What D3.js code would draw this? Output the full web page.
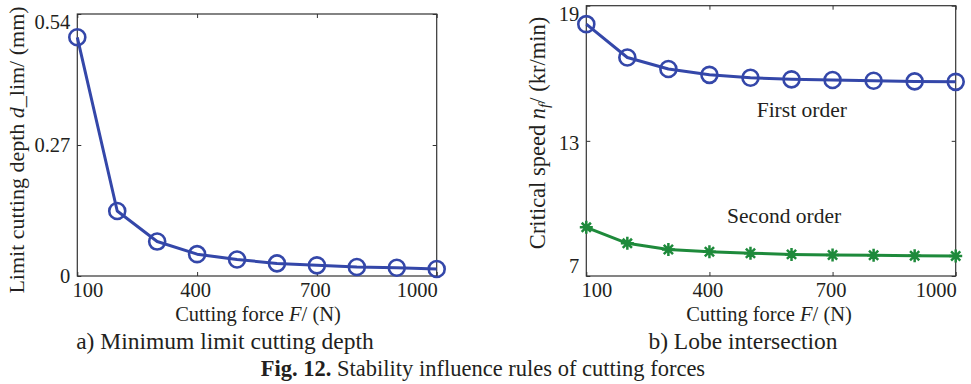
<!DOCTYPE html>
<html>
<head>
<meta charset="utf-8">
<script src="https://cdn.jsdelivr.net/npm/d3@7"></script>
<style>
  body { margin: 0; background: #fff; }
  svg { display: block; font-family: 'Liberation Serif', 'Times New Roman', serif; }
</style>
</head>
<body>
<svg id="fig" width="971" height="384"></svg>
<script>
// cutting force (N)
const forces = [100, 200, 300, 400, 500, 600, 700, 800, 900, 1000]
// a) minimum limit cutting depth (mm)
const depthLim = [0.492, 0.134, 0.071, 0.045, 0.034, 0.026, 0.022, 0.0185, 0.017, 0.0145]
// b) critical speed (kr/min)
const firstOrder = [18.18, 16.7, 16.19, 15.93, 15.8, 15.73, 15.7, 15.67, 15.64, 15.62]
const secondOrder = [9.16, 8.45, 8.18, 8.08, 8.01, 7.96, 7.93, 7.92, 7.9, 7.89]

const xTicks = [100, 400, 700, 1000]
const depthTicks = [0, 0.27, 0.54]
const speedTicks = [7, 13, 19]

const blue = '#3447a9'
const green = '#1e8a3b'
const ink = '#231f20'

const svg = d3.select('#fig')

function frame(g, x, y, yTicks, yFmt, yShift) {
  const [x0, x1] = x.range()
  const [y0, y1] = y.range()

  g.append('rect')
    .attr('x', x0).attr('y', y1)
    .attr('width', x1 - x0).attr('height', y0 - y1)
    .attr('fill', 'none').attr('stroke', '#333').attr('stroke-width', 1.2)

  // bottom axis (inward ticks)
  const bx = g.append('g').attr('transform', `translate(0,${y0})`)
    .call(d3.axisBottom(x).tickValues(xTicks).tickFormat(d3.format('d')).tickSizeInner(-4).tickSizeOuter(0).tickPadding(6))
  bx.attr('font-family', null)
  bx.select('.domain').remove()
  bx.selectAll('.tick line').attr('stroke', '#333')
  bx.selectAll('.tick text')
    .attr('fill', ink).attr('font-size', 20.5)
    .attr('dx', (d, i) => (i === 0 ? 10 : i === xTicks.length - 1 ? -20 : -2))

  // top mirror ticks
  const tx = g.append('g').attr('transform', `translate(0,${y1})`)
    .call(d3.axisTop(x).tickValues(xTicks).tickSizeInner(-4).tickSizeOuter(0).tickFormat(''))
  tx.select('.domain').remove()
  tx.selectAll('.tick line').attr('stroke', '#333')

  // left axis
  const ly = g.append('g').attr('transform', `translate(${x0},0)`)
    .call(d3.axisLeft(y).tickValues(yTicks).tickFormat(yFmt).tickSizeInner(-4).tickSizeOuter(0).tickPadding(7))
  ly.attr('font-family', null)
  ly.select('.domain').remove()
  ly.selectAll('.tick line').attr('stroke', '#333')
  ly.selectAll('.tick text')
    .attr('fill', ink).attr('font-size', 20.5)
    .attr('dy', (d) => yShift(d))

  // right mirror ticks
  const ry = g.append('g').attr('transform', `translate(${x1},0)`)
    .call(d3.axisRight(y).tickValues(yTicks).tickSizeInner(-4).tickSizeOuter(0).tickFormat(''))
  ry.select('.domain').remove()
  ry.selectAll('.tick line').attr('stroke', '#333')
}

function asterisk(g, cx, cy, r, color) {
  const d = r * Math.SQRT1_2
  const p = `M${cx - r},${cy}H${cx + r}M${cx},${cy - r}V${cy + r}` +
    `M${cx - d},${cy - d}L${cx + d},${cy + d}M${cx - d},${cy + d}L${cx + d},${cy - d}`
  g.append('path').attr('d', p).attr('stroke', color).attr('stroke-width', 2.5).attr('fill', 'none')
}

// ---------- a) limit cutting depth ----------
const xa = d3.scaleLinear().domain([100, 1000]).range([77.3, 436.7])
const ya = d3.scaleLinear().domain([0, 0.54]).range([276, 14])
const ga = svg.append('g')

frame(ga, xa, ya, depthTicks, (d) => (d === 0 ? '0' : d.toFixed(2)), (d) => (d === 0.54 ? '0.7em' : '0.32em'))

ga.append('path')
  .datum(forces.map((f, i) => [f, depthLim[i]]))
  .attr('fill', 'none').attr('stroke', blue).attr('stroke-width', 3).attr('stroke-linejoin', 'round')
  .attr('d', d3.line().x((d) => xa(d[0])).y((d) => ya(d[1])))

ga.selectAll('circle.m')
  .data(forces.map((f, i) => [f, depthLim[i]]))
  .join('circle')
  .attr('class', 'm')
  .attr('cx', (d) => xa(d[0])).attr('cy', (d) => ya(d[1]))
  .attr('r', 8).attr('fill', 'none').attr('stroke', blue).attr('stroke-width', 2.6)

ga.append('text')
  .attr('x', 258).attr('y', 321).attr('text-anchor', 'middle')
  .attr('font-size', 20.5).attr('fill', ink)
  .call((t) => {
    t.append('tspan').text('Cutting force ')
    t.append('tspan').attr('font-style', 'italic').text('F')
    t.append('tspan').text('/ (N)')
  })

ga.append('text')
  .attr('transform', 'translate(24,150) rotate(-90)')
  .attr('text-anchor', 'middle').attr('font-size', 22).attr('fill', ink)
  .call((t) => {
    t.append('tspan').text('Limit cutting depth ')
    t.append('tspan').attr('font-style', 'italic').text('d')
    t.append('tspan').text('_lim/ (mm)')
  })

ga.append('text')
  .attr('x', 225).attr('y', 349).attr('text-anchor', 'middle')
  .attr('font-size', 23.5).attr('fill', ink)
  .text('a) Minimum limit cutting depth')

// ---------- b) lobe intersection ----------
const xb = d3.scaleLinear().domain([100, 1000]).range([586.3, 955.7])
const yb = d3.scaleLinear().domain([7, 19]).range([276, 5.7])
const gb = svg.append('g')

frame(gb, xb, yb, speedTicks, d3.format('d'), (d) => (d === 19 ? '0.72em' : d === 7 ? '-0.17em' : '0.43em'))

const line = d3.line().x((d) => xb(d[0])).y((d) => yb(d[1]))
const first = forces.map((f, i) => [f, firstOrder[i]])
const second = forces.map((f, i) => [f, secondOrder[i]])

gb.append('path').datum(first)
  .attr('fill', 'none').attr('stroke', blue).attr('stroke-width', 3).attr('stroke-linejoin', 'round')
  .attr('d', line)
gb.selectAll('circle.m')
  .data(first)
  .join('circle')
  .attr('class', 'm')
  .attr('cx', (d) => xb(d[0])).attr('cy', (d) => yb(d[1]))
  .attr('r', 8).attr('fill', 'none').attr('stroke', blue).attr('stroke-width', 2.6)

gb.append('path').datum(second)
  .attr('fill', 'none').attr('stroke', green).attr('stroke-width', 3).attr('stroke-linejoin', 'round')
  .attr('d', line)
second.forEach((d) => asterisk(gb, xb(d[0]), yb(d[1]), 6.5, green))

gb.append('text')
  .attr('x', xb(625)).attr('y', yb(14.07)).attr('text-anchor', 'middle')
  .attr('font-size', 21.5).attr('fill', ink).text('First order')
gb.append('text')
  .attr('x', xb(582)).attr('y', yb(9.37)).attr('text-anchor', 'middle')
  .attr('font-size', 21.5).attr('fill', ink).text('Second order')

gb.append('text')
  .attr('x', 769).attr('y', 321).attr('text-anchor', 'middle')
  .attr('font-size', 20.5).attr('fill', ink)
  .call((t) => {
    t.append('tspan').text('Cutting force ')
    t.append('tspan').attr('font-style', 'italic').text('F')
    t.append('tspan').text('/ (N)')
  })

gb.append('text')
  .attr('transform', 'translate(545,133) rotate(-90)')
  .attr('text-anchor', 'middle').attr('font-size', 22.5).attr('fill', ink)
  .call((t) => {
    t.append('tspan').text('Critical speed ')
    t.append('tspan').attr('font-style', 'italic').text('n')
    t.append('tspan').attr('font-style', 'italic').attr('font-size', 15).attr('dy', 4).text('f')
    t.append('tspan').attr('dy', -4).text('/ (kr/min)')
  })

gb.append('text')
  .attr('x', 743).attr('y', 349).attr('text-anchor', 'middle')
  .attr('font-size', 23.5).attr('fill', ink)
  .text('b) Lobe intersection')

// ---------- figure caption ----------
svg.append('text')
  .attr('x', 483).attr('y', 376).attr('text-anchor', 'middle')
  .attr('font-size', 22.5).attr('fill', ink)
  .call((t) => {
    t.append('tspan').attr('font-weight', 'bold').text('Fig. 12.')
    t.append('tspan').text(' Stability influence rules of cutting forces')
  })
</script>
</body>
</html>
